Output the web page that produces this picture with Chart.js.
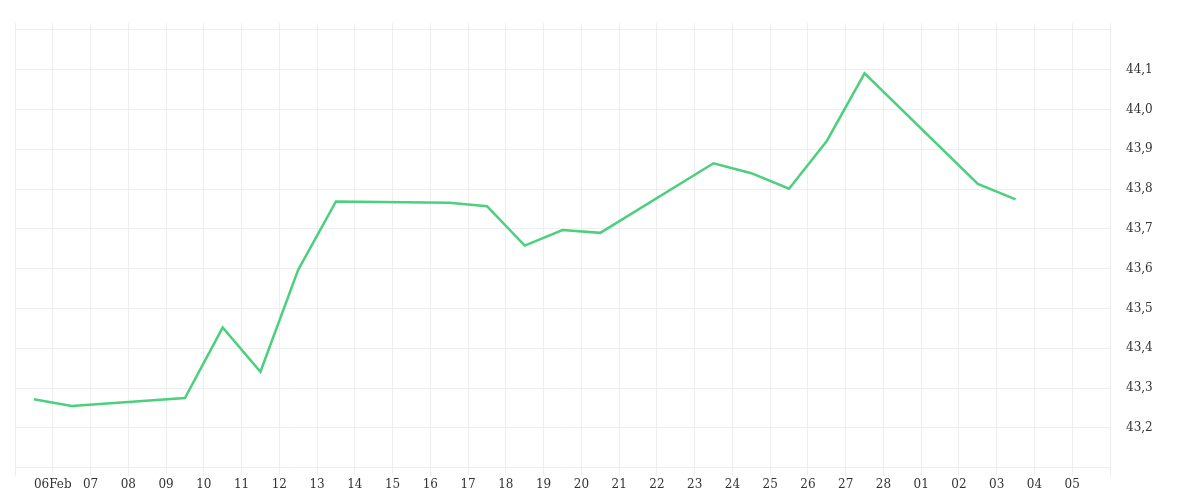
<!DOCTYPE html>
<html><head><meta charset="utf-8">
<script src="https://cdn.jsdelivr.net/npm/chart.js@4"></script>
<style>html,body{margin:0;background:#fff}#w{width:1200px;height:500px}</style>
</head><body><div id="w"><canvas id="c"></canvas></div>
<script>
const dayLabels=['','06Feb','07','08','09','10','11','12','13','14','15','16','17','18','19','20','21','22','23','24','25','26','27','28','01','02','03','04','05',''];
const dayPos=[0.5,1.5,4.5,5.5,6.5,7.5,8.5,11.5,12.5,13.5,14.5,15.5,18.5,19.5,20.5,21.5,22.5,25.5,26.5];
const values=[43.272,43.255,43.275,43.452,43.341,43.597,43.769,43.766,43.757,43.658,43.697,43.690,43.865,43.840,43.801,43.921,44.091,43.813,43.774];
const yTicks=[43.1,43.2,43.3,43.4,43.5,43.6,43.7,43.8,43.9,44.0,44.1,44.2];
const font={family:'"DejaVu Serif", serif',size:12};
new Chart(document.getElementById('c'),{type:'line',
data:{datasets:[{data:dayPos.map((x,i)=>({x,y:values[i]})),borderColor:'#4cd07d',borderWidth:2.5,pointRadius:0,tension:0,fill:false}]},
options:{responsive:true,maintainAspectRatio:false,animation:false,
layout:{padding:{left:15,top:4,right:0,bottom:6}},
plugins:{legend:{display:false},tooltip:{enabled:false}},
scales:{
x:{type:'linear',min:0,max:29,
afterBuildTicks:s=>{s.ticks=dayLabels.map((_,i)=>({value:i}));},
ticks:{autoSkip:false,maxRotation:0,color:'#333',font,padding:2,callback:(v)=>dayLabels[v]},
grid:{color:'#eeeeee',tickLength:8,drawTicks:true},border:{display:false}},
y:{position:'right',min:43.1,max:44.217,
afterBuildTicks:s=>{s.ticks=yTicks.map(v=>({value:v}));},
afterFit:s=>{s.width=90;},
ticks:{color:'#333',font,padding:16,callback:(v)=>(v<43.15||v>44.15)?'':v.toFixed(1).replace('.',',')},
grid:{color:'#eeeeee',tickLength:0},border:{display:false}}
}}});
</script></body></html>
